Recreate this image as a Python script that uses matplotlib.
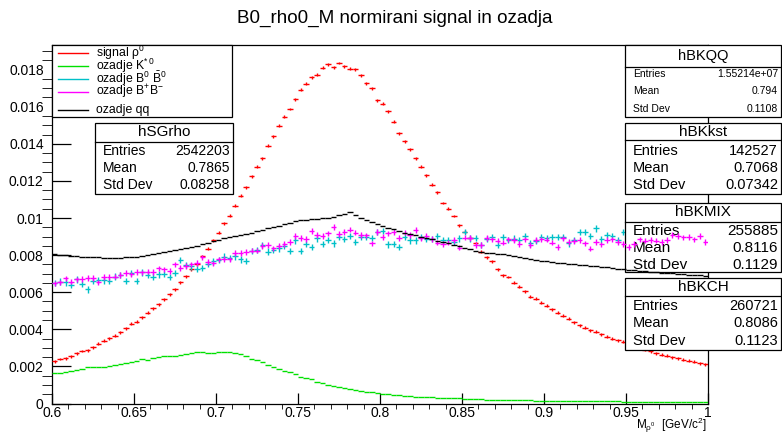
import numpy as np
import matplotlib
matplotlib.use('Agg')
import matplotlib.pyplot as plt
from matplotlib.patches import Rectangle
from matplotlib.lines import Line2D

plt.rcParams['font.family'] = ['Liberation Sans', 'DejaVu Sans']
plt.rcParams['mathtext.fontset'] = 'custom'
plt.rcParams['mathtext.rm'] = 'Liberation Sans'
plt.rcParams['mathtext.it'] = 'Liberation Sans'
plt.rcParams['mathtext.bf'] = 'Liberation Sans:bold'

# histogram range, 120 bins from 0.6 to 1.0
x_lo, x_hi, n_bins = 0.6, 1.0, 120

# normalised bin contents
signal_rho = [
    0.00227, 0.00240, 0.00244, 0.00256, 0.00270, 0.00283, 0.00288, 0.00303, 0.00321, 0.00339,
    0.00351, 0.00366, 0.00384, 0.00405, 0.00429, 0.00441, 0.00465, 0.00490, 0.00513, 0.00536,
    0.00562, 0.00590, 0.00616, 0.00653, 0.00687, 0.00723, 0.00750, 0.00795, 0.00835, 0.00881,
    0.00921, 0.00971, 0.01013, 0.01065, 0.01119, 0.01165, 0.01226, 0.01277, 0.01322, 0.01390,
    0.01442, 0.01498, 0.01546, 0.01588, 0.01641, 0.01692, 0.01724, 0.01758, 0.01773, 0.01810,
    0.01828, 0.01814, 0.01836, 0.01819, 0.01805, 0.01803, 0.01769, 0.01728, 0.01701, 0.01634,
    0.01616, 0.01575, 0.01519, 0.01458, 0.01415, 0.01372, 0.01323, 0.01277, 0.01230, 0.01180,
    0.01140, 0.01081, 0.01049, 0.01011, 0.00962, 0.00926, 0.00894, 0.00864, 0.00818, 0.00788,
    0.00768, 0.00723, 0.00691, 0.00682, 0.00651, 0.00630, 0.00605, 0.00576, 0.00565, 0.00543,
    0.00526, 0.00508, 0.00490, 0.00472, 0.00456, 0.00438, 0.00422, 0.00409, 0.00396, 0.00387,
    0.00373, 0.00360, 0.00349, 0.00342, 0.00333, 0.00322, 0.00312, 0.00301, 0.00290, 0.00281,
    0.00272, 0.00263, 0.00258, 0.00249, 0.00244, 0.00236, 0.00231, 0.00224, 0.00217, 0.00211,
]
bk_kst = [
    0.00163, 0.00167, 0.00172, 0.00177, 0.00181, 0.00186, 0.00195, 0.00197, 0.00197, 0.00199,
    0.00204, 0.00206, 0.00215, 0.00220, 0.00222, 0.00231, 0.00238, 0.00235, 0.00244, 0.00251,
    0.00254, 0.00254, 0.00256, 0.00263, 0.00267, 0.00270, 0.00277, 0.00277, 0.00272, 0.00272,
    0.00275, 0.00277, 0.00275, 0.00270, 0.00265, 0.00255, 0.00242, 0.00236, 0.00222, 0.00208,
    0.00197, 0.00186, 0.00177, 0.00168, 0.00157, 0.00145, 0.00139, 0.00132, 0.00118, 0.00109,
    0.00100, 0.00096, 0.00087, 0.00082, 0.00080, 0.00075, 0.00069, 0.00064, 0.00060, 0.00057,
    0.00053, 0.00049, 0.00048, 0.00046, 0.00042, 0.00039, 0.00037, 0.00036, 0.00035, 0.00033,
    0.00032, 0.00031, 0.00030, 0.00028, 0.00027, 0.00026, 0.00025, 0.00024, 0.00022, 0.00021,
    0.00020, 0.00020, 0.00019, 0.00019, 0.00018, 0.00018, 0.00017, 0.00017, 0.00016, 0.00016,
    0.00015, 0.00015, 0.00015, 0.00014, 0.00014, 0.00013, 0.00013, 0.00013, 0.00012, 0.00012,
    0.00012, 0.00011, 0.00011, 0.00011, 0.00010, 0.00010, 0.00010, 0.00010, 0.00009, 0.00009,
    0.00009, 0.00009, 0.00008, 0.00008, 0.00008, 0.00008, 0.00007, 0.00007, 0.00007, 0.00007,
]
bk_mix = [
    0.00648, 0.00657, 0.00653, 0.00639, 0.00669, 0.00644, 0.00615, 0.00660, 0.00666, 0.00664,
    0.00660, 0.00684, 0.00693, 0.00660, 0.00702, 0.00662, 0.00707, 0.00695, 0.00684, 0.00696,
    0.00698, 0.00682, 0.00702, 0.00774, 0.00747, 0.00739, 0.00727, 0.00729, 0.00754, 0.00766,
    0.00774, 0.00792, 0.00784, 0.00793, 0.00777, 0.00770, 0.00822, 0.00828, 0.00854, 0.00819,
    0.00826, 0.00836, 0.00851, 0.00822, 0.00879, 0.00822, 0.00861, 0.00843, 0.00890, 0.00861,
    0.00881, 0.00863, 0.00899, 0.00886, 0.00904, 0.00872, 0.00899, 0.00897, 0.00893, 0.00926,
    0.00929, 0.00858, 0.00861, 0.00845, 0.00899, 0.00879, 0.00879, 0.00897, 0.00886, 0.00886,
    0.00904, 0.00879, 0.00881, 0.00872, 0.00890, 0.00926, 0.00890, 0.00893, 0.00854, 0.00886,
    0.00896, 0.00854, 0.00899, 0.00881, 0.00889, 0.00881, 0.00903, 0.00863, 0.00878, 0.00896,
    0.00894, 0.00896, 0.00898, 0.00896, 0.00863, 0.00881, 0.00926, 0.00926, 0.00903, 0.00944,
    0.00885, 0.00908, 0.00903, 0.00881, 0.00926, 0.00885, 0.00872, 0.00896, 0.00881, 0.00885,
    0.00885, 0.00881, 0.00872, 0.00885, 0.00878, 0.00881, 0.00890, 0.00885, 0.00881, 0.00878,
]
bk_ch = [
    0.00648, 0.00653, 0.00675, 0.00657, 0.00669, 0.00671, 0.00677, 0.00678, 0.00653, 0.00682,
    0.00682, 0.00684, 0.00693, 0.00705, 0.00696, 0.00709, 0.00707, 0.00711, 0.00709, 0.00729,
    0.00723, 0.00714, 0.00750, 0.00730, 0.00741, 0.00750, 0.00759, 0.00788, 0.00763, 0.00756,
    0.00777, 0.00779, 0.00777, 0.00813, 0.00811, 0.00818, 0.00824, 0.00824, 0.00849, 0.00854,
    0.00836, 0.00849, 0.00861, 0.00872, 0.00904, 0.00893, 0.00886, 0.00929, 0.00908, 0.00903,
    0.00917, 0.00953, 0.00915, 0.00926, 0.00938, 0.00922, 0.00908, 0.00906, 0.00863, 0.00926,
    0.00899, 0.00917, 0.00926, 0.00893, 0.00922, 0.00908, 0.00937, 0.00890, 0.00903, 0.00886,
    0.00868, 0.00861, 0.00868, 0.00881, 0.00840, 0.00895, 0.00893, 0.00854, 0.00854, 0.00893,
    0.00885, 0.00878, 0.00867, 0.00885, 0.00881, 0.00860, 0.00885, 0.00854, 0.00881, 0.00885,
    0.00884, 0.00867, 0.00845, 0.00890, 0.00872, 0.00876, 0.00881, 0.00863, 0.00835, 0.00872,
    0.00858, 0.00881, 0.00885, 0.00872, 0.00860, 0.00845, 0.00860, 0.00885, 0.00878, 0.00881,
    0.00878, 0.00871, 0.00881, 0.00908, 0.00903, 0.00896, 0.00899, 0.00885, 0.00903, 0.00871,
]
bk_qq = [
    0.00806, 0.00802, 0.00799, 0.00797, 0.00795, 0.00792, 0.00790, 0.00788, 0.00788, 0.00786,
    0.00784, 0.00783, 0.00784, 0.00788, 0.00790, 0.00792, 0.00797, 0.00801, 0.00806, 0.00811,
    0.00817, 0.00822, 0.00827, 0.00831, 0.00836, 0.00844, 0.00851, 0.00858, 0.00867, 0.00874,
    0.00883, 0.00890, 0.00896, 0.00903, 0.00908, 0.00916, 0.00921, 0.00928, 0.00935, 0.00944,
    0.00953, 0.00959, 0.00966, 0.00973, 0.00982, 0.00987, 0.00991, 0.00995, 0.00996, 0.00998,
    0.01002, 0.01007, 0.01014, 0.01023, 0.01034, 0.01016, 0.01002, 0.00989, 0.00977, 0.00966,
    0.00957, 0.00948, 0.00939, 0.00930, 0.00921, 0.00914, 0.00907, 0.00899, 0.00892, 0.00885,
    0.00878, 0.00871, 0.00863, 0.00856, 0.00847, 0.00838, 0.00831, 0.00824, 0.00818, 0.00813,
    0.00811, 0.00807, 0.00804, 0.00799, 0.00793, 0.00788, 0.00783, 0.00777, 0.00774, 0.00770,
    0.00766, 0.00763, 0.00759, 0.00756, 0.00754, 0.00752, 0.00748, 0.00747, 0.00743, 0.00741,
    0.00738, 0.00734, 0.00730, 0.00727, 0.00723, 0.00721, 0.00718, 0.00716, 0.00713, 0.00711,
    0.00709, 0.00705, 0.00704, 0.00702, 0.00700, 0.00698, 0.00695, 0.00693, 0.00691, 0.00687,
]

legend_labels = ['signal ρ$^{0}$', r'ozadje K$^{*\,0}$', r'ozadje B$^{0}$ $\bar{\mathrm{B}}^{0}$',
                 r'ozadje B$^{+}$B$^{-}$', 'ozadje qq']

# stat boxes
stat_names = ['hSGrho', 'hBKkst', 'hBKMIX', 'hBKCH', 'hBKQQ']
stat_entries = ['2542203', '142527', '255885', '260721', '1.55214e+07']
stat_mean = ['0.7865', '0.7068', '0.8116', '0.8086', '0.794']
stat_std = ['0.08258', '0.07342', '0.1129', '0.1123', '0.1108']

x_ticks = [0.6, 0.65, 0.7, 0.75, 0.8, 0.85, 0.9, 0.95, 1.0]
x_tick_labels = ['0.6', '0.65', '0.7', '0.75', '0.8', '0.85', '0.9', '0.95', '1']
y_ticks = [0, 0.002, 0.004, 0.006, 0.008, 0.01, 0.012, 0.014, 0.016, 0.018]
y_tick_labels = ['0', '0.002', '0.004', '0.006', '0.008', '0.01', '0.012', '0.014', '0.016', '0.018']

W, H = 782, 438
fig = plt.figure(figsize=(W / 100, H / 100), dpi=100)
ax = fig.add_axes([52 / W, 1 - 403.5 / H, (708 - 52) / W, (403.5 - 45) / H])

edges = np.linspace(x_lo, x_hi, n_bins + 1)
centers = 0.5 * (edges[:-1] + edges[1:])


def draw_hist(vals, color, err, z):
    vals = np.asarray(vals)
    ax.hlines(vals, edges[:-1], edges[1:], colors=color, lw=1.0, zorder=z)
    if err > 0:
        ax.vlines(centers, vals - err, vals + err, colors=color, lw=1.0, zorder=z)


def fx(px):
    return px / W


def fy(py):
    return 1 - py / H


def stat_box(k, box, sep, rows, title_fs, row_fs, z):
    # box = (left, top, right, bottom) in pixels
    l, t, r, b = box
    tr = fig.transFigure
    ax.add_patch(Rectangle((fx(l), fy(b)), fx(r) - fx(l), fy(t) - fy(b), transform=tr,
                           facecolor='white', edgecolor='black', lw=0.9, zorder=z, clip_on=False))
    ax.add_line(Line2D([fx(l), fx(r)], [fy(sep), fy(sep)], transform=tr, color='black',
                       lw=0.9, zorder=z, clip_on=False))
    ax.text(fx((l + r) / 2), fy((t + sep) / 2), stat_names[k], transform=tr, ha='center',
            va='center', fontsize=title_fs, zorder=z, clip_on=False)
    for name, val, y in zip(['Entries', 'Mean', 'Std Dev'],
                            [stat_entries[k], stat_mean[k], stat_std[k]], rows):
        ax.text(fx(l + 8), fy(y), name, transform=tr, ha='left', va='center',
                fontsize=row_fs, zorder=z, clip_on=False)
        ax.text(fx(r - 3), fy(y), val, transform=tr, ha='right', va='center',
                fontsize=row_fs, zorder=z, clip_on=False)


# draw order as in ROOT: each histogram, then its stat box
draw_hist(signal_rho, '#ff0000', 0.00008, 3.0)
stat_box(0, (95, 123, 233, 194), 142, [151, 168, 185], 11, 10, 3.1)
draw_hist(bk_kst, '#00e000', 0, 3.2)
stat_box(1, (625, 123, 781, 194), 140, [151, 168, 185], 11, 10.5, 3.3)
draw_hist(bk_mix, '#00c0c8', 0.00017, 3.4)
stat_box(2, (625, 203, 781, 272), 222, [231, 248, 265], 11, 11, 3.5)
draw_hist(bk_ch, '#ff00ff', 0.00015, 3.6)
stat_box(3, (625, 278, 781, 350), 296, [306, 323, 341], 11, 10.5, 3.7)
draw_hist(bk_qq, '#000000', 0, 3.8)
stat_box(4, (625, 45, 781, 117), 67, [74, 91, 109], 10.5, 7.5, 3.9)

# legend box
leg_colors = ['#ff0000', '#00e000', '#00c0c8', '#ff00ff', '#000000']
leg_rows = [52.5, 65.5, 78.5, 92, 110]
fig.add_artist(Rectangle((fx(52), fy(117)), fx(232) - fx(52), fy(45) - fy(117),
                         transform=fig.transFigure, facecolor='white', edgecolor='black',
                         lw=0.9, zorder=5))
for lab, col, y in zip(legend_labels, leg_colors, leg_rows):
    fig.add_artist(Line2D([fx(58), fx(88)], [fy(y), fy(y)], transform=fig.transFigure,
                          color=col, lw=1.0, zorder=6))
    fig.text(fx(96), fy(y), lab, ha='left', va='center', fontsize=8.8, zorder=6)

ax.set_xlim(x_lo, x_hi)
ax.set_ylim(0, 0.01933)
ax.set_xticks(x_ticks)
ax.set_xticklabels(x_tick_labels)
ax.set_yticks(y_ticks)
ax.set_yticklabels(y_tick_labels)
ax.set_xticks(np.arange(0.6, 1.0001, 0.01), minor=True)
ax.set_yticks(np.arange(0, 0.0193, 0.0005), minor=True)
ax.tick_params(axis='both', direction='in', width=0.9, labelsize=10)
ax.tick_params(axis='x', which='major', length=7.7, pad=2)
ax.tick_params(axis='x', which='minor', length=3.8)
ax.tick_params(axis='y', which='major', length=13.5, pad=6)
ax.tick_params(axis='y', which='minor', length=7)
for s in ax.spines.values():
    s.set_linewidth(0.9)

fig.text(fx(395), fy(18), 'B0_rho0_M normirani signal in ozadja', ha='center', va='center',
         fontsize=13.6)
fig.text(fx(707), fy(425), 'M$_{ρ^{0}}$  [GeV/c$^{2}$]', ha='right', va='center',
         fontsize=8.5)

fig.savefig('out.png', dpi=100)
